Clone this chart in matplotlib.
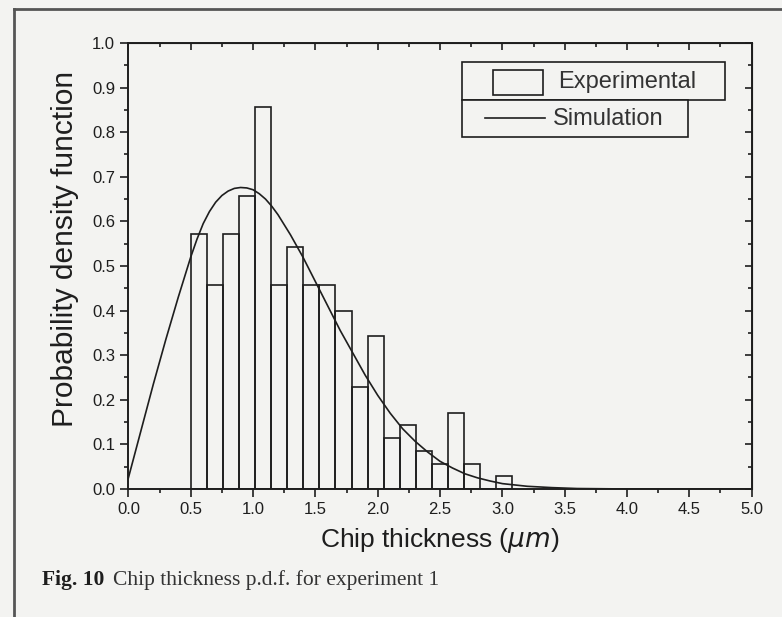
import matplotlib
matplotlib.use("Agg")
import matplotlib.pyplot as plt
from matplotlib.lines import Line2D
from matplotlib.patches import Rectangle
from matplotlib.ticker import MultipleLocator, NullFormatter

# histogram of chip thickness (bins start at 0.5 um)
bin_start = 0.5
bin_width = 0.129
pdf_exp = [0.571, 0.457, 0.571, 0.657, 0.857, 0.457, 0.543, 0.457, 0.457, 0.400,
           0.229, 0.343, 0.114, 0.143, 0.086, 0.057, 0.171, 0.057, 0.0, 0.029]

# simulated p.d.f.
sim_x = [0.0, 0.1, 0.2, 0.3, 0.4, 0.5, 0.55, 0.6, 0.65, 0.7, 0.75, 0.8, 0.85, 0.9,
         0.95, 1.0, 1.05, 1.1, 1.15, 1.2, 1.3, 1.4, 1.5, 1.6, 1.7, 1.8, 1.9, 2.0,
         2.1, 2.2, 2.3, 2.4, 2.5, 2.6, 2.7, 2.8, 2.9, 3.0, 3.2, 3.4, 3.6, 4.0, 5.0]
sim_y = [0.025, 0.13, 0.235, 0.335, 0.43, 0.52, 0.56, 0.595, 0.622, 0.643, 0.658,
         0.668, 0.674, 0.676, 0.675, 0.671, 0.662, 0.65, 0.634, 0.615, 0.57, 0.52,
         0.465, 0.41, 0.355, 0.305, 0.255, 0.21, 0.17, 0.135, 0.107, 0.083, 0.062,
         0.047, 0.034, 0.025, 0.018, 0.012, 0.006, 0.003, 0.001, 0.0, 0.0]

bg = "#f3f3f1"
ink = "#1e1e1e"
plt.rcParams["font.family"] = ["Liberation Sans", "DejaVu Sans"]
plt.rcParams["mathtext.fontset"] = "dejavusans"

fig = plt.figure(figsize=(7.82, 6.17), dpi=100, facecolor=bg)
ax = fig.add_axes([0.1642, 0.2075, 0.797, 0.7228], facecolor=bg)

lefts = [bin_start + i * bin_width for i in range(len(pdf_exp))]
ax.bar(lefts, pdf_exp, width=bin_width, align="edge", facecolor="none",
       edgecolor=ink, linewidth=1.2)
ax.plot(sim_x, sim_y, color=ink, linewidth=1.2)

ax.set_xlim(0, 5.0)
ax.set_ylim(0, 1.0)
ax.xaxis.set_major_locator(MultipleLocator(0.5))
ax.xaxis.set_minor_locator(MultipleLocator(0.25))
ax.yaxis.set_major_locator(MultipleLocator(0.1))
ax.yaxis.set_minor_locator(MultipleLocator(0.05))
ax.tick_params(which="both", direction="out", colors=ink, width=1.2, labelsize=12)
ax.tick_params(which="major", length=6)
ax.tick_params(which="minor", length=3)
for s in ax.spines.values():
    s.set_linewidth(1.4)
    s.set_color(ink)

# ticks on top/right point inward, no labels
top = ax.secondary_xaxis("top")
top.xaxis.set_major_locator(MultipleLocator(0.5))
top.xaxis.set_minor_locator(MultipleLocator(0.25))
top.xaxis.set_major_formatter(NullFormatter())
top.tick_params(which="both", direction="in", width=1.2, colors=ink)
top.tick_params(which="major", length=5)
top.tick_params(which="minor", length=3)
right = ax.secondary_yaxis("right")
right.yaxis.set_major_locator(MultipleLocator(0.1))
right.yaxis.set_minor_locator(MultipleLocator(0.05))
right.yaxis.set_major_formatter(NullFormatter())
right.tick_params(which="both", direction="in", width=1.2, colors=ink)
right.tick_params(which="major", length=5)
right.tick_params(which="minor", length=3)

ax.set_xlabel("Chip thickness ($\\mu m$)", fontsize=19, color=ink, labelpad=6)
ax.set_ylabel("Probability density function", fontsize=21.5, color=ink)
ax.yaxis.set_label_coords(-0.08, 0.538)

# Origin-style stacked legend boxes
ax.add_patch(Rectangle((0.535, 0.872), 0.422, 0.085, transform=ax.transAxes,
                       facecolor=bg, edgecolor=ink, linewidth=1.2, zorder=5))
ax.add_patch(Rectangle((0.535, 0.789), 0.363, 0.083, transform=ax.transAxes,
                       facecolor=bg, edgecolor=ink, linewidth=1.2, zorder=5))
ax.add_patch(Rectangle((0.585, 0.883), 0.081, 0.056, transform=ax.transAxes,
                       facecolor="none", edgecolor=ink, linewidth=1.2, zorder=6))
ax.add_line(Line2D([0.572, 0.668], [0.832, 0.832], transform=ax.transAxes,
                   color=ink, linewidth=1.2, zorder=6))
ax.text(0.689, 0.913, "Experimental", transform=ax.transAxes, fontsize=17,
        color="#333333", va="center", ha="left", zorder=6)
ax.text(0.681, 0.830, "Simulation", transform=ax.transAxes, fontsize=17,
        color="#333333", va="center", ha="left", zorder=6)

# scan frame lines
fig.add_artist(Line2D([14 / 782, 14 / 782], [0, 1 - 9 / 617], transform=fig.transFigure,
                      color="#555555", linewidth=2))
fig.add_artist(Line2D([14 / 782, 1], [1 - 9 / 617, 1 - 9 / 617], transform=fig.transFigure,
                      color="#555555", linewidth=2))

fig.text(42 / 782, 1 - 580 / 617, "Fig. 10", fontsize=15.5, fontweight="bold",
         family="Liberation Serif", color=ink, va="center", ha="left")
fig.text(113 / 782, 1 - 580 / 617, "Chip thickness p.d.f. for experiment 1", fontsize=15.5,
         family="Liberation Serif", color="#333333", va="center", ha="left")

fig.savefig("out.png", dpi=100, facecolor=bg)
